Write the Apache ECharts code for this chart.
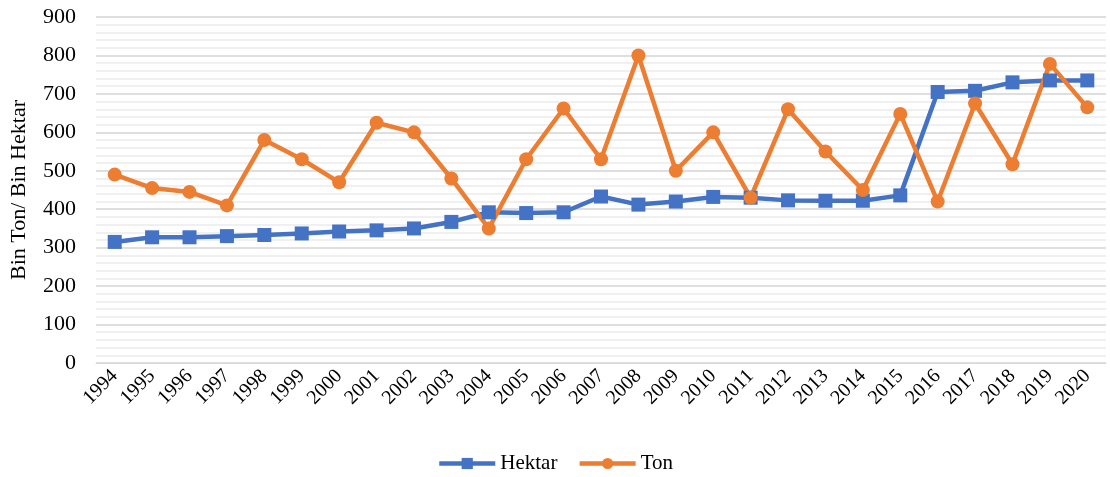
<!DOCTYPE html>
<html>
<head>
<meta charset="utf-8">
<script src="https://cdn.jsdelivr.net/npm/echarts@6/dist/echarts.min.js"></script>
<style>
  html, body { margin: 0; padding: 0; background: #fff; }
  #chart { width: 1110px; height: 477px; }
</style>
</head>
<body>
<div id="chart"></div>
<script>
const years = ['1994','1995','1996','1997','1998','1999','2000','2001','2002','2003','2004','2005','2006','2007','2008','2009','2010','2011','2012','2013','2014','2015','2016','2017','2018','2019','2020'];
const hektar = [315, 327, 327, 330, 333, 337, 342, 345, 350, 367, 392, 390, 392, 433, 412, 420, 432, 430, 423, 422, 422, 436, 705, 708, 730, 735, 735];
const ton = [490, 455, 445, 410, 580, 530, 470, 625, 600, 480, 350, 530, 662, 530, 800, 500, 600, 430, 660, 550, 450, 648, 420, 675, 517, 778, 665];

const font = 'Liberation Serif';
const chart = echarts.init(document.getElementById('chart'));
chart.setOption({
  animation: false,
  textStyle: { fontFamily: font },
  grid: { left: 95, right: 4, top: 17, bottom: 114 },
  legend: {
    bottom: -2,
    itemWidth: 56,
    itemHeight: 14,
    itemGap: 20,
    lineStyle: { width: 4.5 },
    textStyle: { fontFamily: font, fontSize: 21, color: '#000' },
    data: ['Hektar', 'Ton']
  },
  xAxis: {
    type: 'category',
    data: years,
    axisLine: { lineStyle: { color: '#d9d9d9' } },
    axisTick: { show: false },
    axisLabel: { rotate: 45, fontFamily: font, fontSize: 20, color: '#000', margin: 10, interval: 0 }
  },
  yAxis: {
    type: 'value',
    min: 0, max: 900, interval: 100,
    name: 'Bin Ton/ Bin Hektar',
    nameLocation: 'middle',
    nameGap: 66,
    nameTextStyle: { fontFamily: font, fontSize: 22, color: '#000' },
    axisLabel: { fontFamily: font, fontSize: 22, color: '#000', margin: 20 },
    splitLine: { lineStyle: { color: '#d5d5d5', width: 1.5 } },
    minorTick: { show: false, splitNumber: 5 },
    minorSplitLine: { show: true, lineStyle: { color: '#ececec', width: 1.5 } }
  },
  series: [
    {
      name: 'Hektar', type: 'line', data: hektar,
      symbol: 'rect', symbolSize: 14,
      lineStyle: { color: '#4472C4', width: 4.5 },
      itemStyle: { color: '#4472C4' }
    },
    {
      name: 'Ton', type: 'line', data: ton,
      symbol: 'circle', symbolSize: 14,
      lineStyle: { color: '#ED7D31', width: 4.5 },
      itemStyle: { color: '#ED7D31' }
    }
  ]
});
</script>
</body>
</html>
